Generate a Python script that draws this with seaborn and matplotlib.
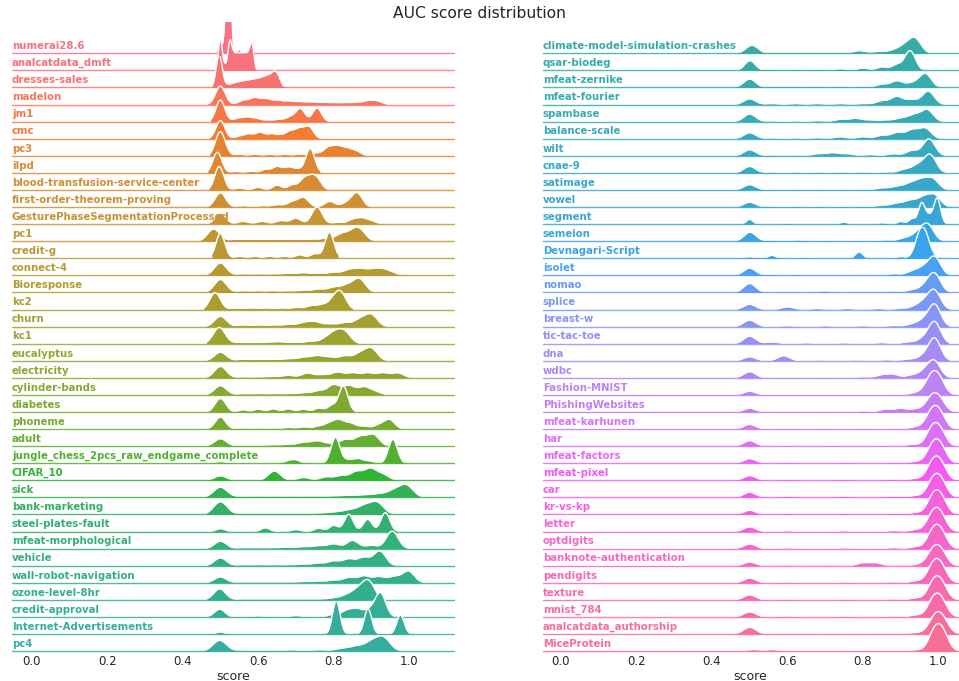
import numpy as np
import matplotlib
matplotlib.use("Agg")
import matplotlib.pyplot as plt
import seaborn as sns

# AUC score samples (estimated) with weights, one ridge per dataset
left_names = ["numerai28.6", "analcatdata_dmft", "dresses-sales", "madelon", "jm1", "cmc", "pc3", "ilpd",
              "blood-transfusion-service-center", "first-order-theorem-proving",
              "GesturePhaseSegmentationProcessed", "pc1", "credit-g", "connect-4", "Bioresponse", "kc2",
              "churn", "kc1", "eucalyptus", "electricity", "cylinder-bands", "diabetes", "phoneme", "adult",
              "jungle_chess_2pcs_raw_endgame_complete", "CIFAR_10", "sick", "bank-marketing",
              "steel-plates-fault", "mfeat-morphological", "vehicle", "wall-robot-navigation",
              "ozone-level-8hr", "credit-approval", "Internet-Advertisements", "pc4"]

left_scores = [
    [0.499, 0.512, 0.519, 0.526, 0.55, 0.583],
    [0.50, 0.512, 0.525, 0.535, 0.545, 0.555, 0.565, 0.575, 0.584],
    [0.497, 0.52, 0.535, 0.55, 0.565, 0.58, 0.595, 0.61, 0.625, 0.64, 0.652],
    [0.50, 0.56, 0.59, 0.62, 0.65, 0.68, 0.71, 0.74, 0.77, 0.80, 0.83, 0.86, 0.89, 0.915],
    [0.50, 0.545, 0.57, 0.595, 0.625, 0.655, 0.685, 0.712, 0.756],
    [0.50, 0.55, 0.575, 0.605, 0.635, 0.66, 0.685, 0.71, 0.735],
    [0.50, 0.55, 0.59, 0.63, 0.67, 0.71, 0.75, 0.785, 0.81, 0.835, 0.86],
    [0.492, 0.54, 0.58, 0.62, 0.65, 0.68, 0.705, 0.738],
    [0.497, 0.55, 0.60, 0.65, 0.69, 0.72, 0.74, 0.757],
    [0.50, 0.56, 0.61, 0.65, 0.69, 0.72, 0.79, 0.835, 0.862],
    [0.50, 0.56, 0.61, 0.66, 0.70, 0.756, 0.81, 0.85, 0.875, 0.90],
    [0.482, 0.54, 0.58, 0.62, 0.66, 0.70, 0.74, 0.78, 0.82, 0.85, 0.87],
    [0.50, 0.55, 0.59, 0.63, 0.67, 0.71, 0.75, 0.789],
    [0.50, 0.56, 0.60, 0.64, 0.68, 0.72, 0.76, 0.80, 0.84, 0.87, 0.90, 0.925, 0.95],
    [0.50, 0.56, 0.60, 0.64, 0.68, 0.72, 0.76, 0.80, 0.835, 0.868],
    [0.486, 0.54, 0.58, 0.62, 0.66, 0.70, 0.74, 0.77, 0.80, 0.82],
    [0.50, 0.56, 0.60, 0.64, 0.68, 0.72, 0.75, 0.79, 0.83, 0.87, 0.90],
    [0.497, 0.55, 0.59, 0.63, 0.66, 0.70, 0.74, 0.78, 0.805, 0.83],
    [0.50, 0.56, 0.60, 0.64, 0.68, 0.72, 0.756, 0.79, 0.83, 0.87, 0.90],
    [0.50, 0.56, 0.60, 0.64, 0.68, 0.73, 0.77, 0.81, 0.85, 0.89, 0.93, 0.97],
    [0.50, 0.56, 0.60, 0.64, 0.68, 0.72, 0.76, 0.80, 0.84, 0.88, 0.91],
    [0.493, 0.507, 0.56, 0.60, 0.64, 0.68, 0.72, 0.76, 0.795, 0.826],
    [0.50, 0.56, 0.60, 0.64, 0.68, 0.72, 0.76, 0.79, 0.815, 0.845, 0.88, 0.92, 0.948],
    [0.50, 0.56, 0.60, 0.64, 0.68, 0.72, 0.756, 0.79, 0.83, 0.87, 0.905],
    [0.50, 0.68, 0.70, 0.805, 0.84, 0.866, 0.895, 0.957],
    [0.50, 0.643, 0.72, 0.78, 0.82, 0.86, 0.897, 0.93],
    [0.50, 0.56, 0.60, 0.64, 0.68, 0.72, 0.76, 0.80, 0.84, 0.88, 0.92, 0.96, 0.993],
    [0.50, 0.56, 0.60, 0.64, 0.68, 0.72, 0.76, 0.80, 0.84, 0.88, 0.915],
    [0.50, 0.619, 0.70, 0.76, 0.80, 0.84, 0.89, 0.937],
    [0.50, 0.56, 0.60, 0.64, 0.68, 0.72, 0.76, 0.80, 0.85, 0.90, 0.955],
    [0.50, 0.56, 0.60, 0.64, 0.68, 0.72, 0.76, 0.80, 0.84, 0.88, 0.922],
    [0.50, 0.56, 0.60, 0.64, 0.68, 0.72, 0.76, 0.80, 0.84, 0.88, 0.92, 0.96, 0.998],
    [0.498, 0.56, 0.60, 0.64, 0.68, 0.72, 0.76, 0.80, 0.835, 0.865, 0.893],
    [0.498, 0.60, 0.70, 0.80, 0.835, 0.862, 0.895, 0.924],
    [0.50, 0.807, 0.891, 0.977],
    [0.498, 0.56, 0.62, 0.69, 0.76, 0.82, 0.86, 0.90, 0.932],
]

left_weights = [
    [0.08, 0.1, 0.37, 0.365, 0.02, 0.065],
    [0.2, 0.03, 0.18, 0.09, 0.09, 0.09, 0.09, 0.09, 0.16],
    [0.33, 0.023, 0.034, 0.045, 0.053, 0.06, 0.068, 0.079, 0.094, 0.113, 0.1],
    [0.55, 0.12, 0.195, 0.165, 0.12, 0.096, 0.08, 0.07, 0.06, 0.054, 0.054, 0.06, 0.1, 0.1],
    [0.57, 0.08, 0.11, 0.08, 0.04, 0.06, 0.12, 0.34, 0.36],
    [0.47, 0.06, 0.12, 0.16, 0.12, 0.08, 0.18, 0.24, 0.3],
    [0.83, 0.05, 0.05, 0.05, 0.05, 0.06, 0.09, 0.27, 0.29, 0.22, 0.15],
    [0.6, 0.04, 0.05, 0.1, 0.18, 0.16, 0.1, 0.71],
    [0.72, 0.06, 0.08, 0.15, 0.15, 0.3, 0.3, 0.28],
    [0.43, 0.04, 0.04, 0.07, 0.15, 0.28, 0.17, 0.12, 0.42],
    [0.33, 0.08, 0.08, 0.1, 0.17, 0.5, 0.05, 0.12, 0.15, 0.08],
    [0.51, 0.08, 0.08, 0.08, 0.08, 0.08, 0.08, 0.12, 0.28, 0.3, 0.4],
    [0.65, 0.05, 0.05, 0.05, 0.05, 0.09, 0.12, 0.68],
    [0.49, 0.06, 0.06, 0.06, 0.08, 0.1, 0.08, 0.12, 0.2, 0.22, 0.17, 0.2, 0.12],
    [0.48, 0.06, 0.06, 0.06, 0.06, 0.08, 0.12, 0.18, 0.25, 0.5],
    [0.56, 0.05, 0.05, 0.05, 0.05, 0.07, 0.12, 0.14, 0.3, 0.5],
    [0.4, 0.06, 0.06, 0.06, 0.08, 0.14, 0.18, 0.1, 0.15, 0.27, 0.45],
    [0.69, 0.05, 0.05, 0.06, 0.07, 0.05, 0.1, 0.2, 0.4, 0.45],
    [0.36, 0.06, 0.06, 0.06, 0.08, 0.14, 0.2, 0.14, 0.2, 0.3, 0.5],
    [0.47, 0.04, 0.04, 0.06, 0.1, 0.19, 0.12, 0.23, 0.2, 0.2, 0.2, 0.2],
    [0.37, 0.05, 0.05, 0.05, 0.05, 0.08, 0.16, 0.4, 0.36, 0.3, 0.12],
    [0.25, 0.25, 0.07, 0.09, 0.1, 0.1, 0.09, 0.12, 0.2, 0.81],
    [0.44, 0.04, 0.04, 0.04, 0.06, 0.08, 0.1, 0.2, 0.3, 0.2, 0.1, 0.15, 0.34],
    [0.33, 0.04, 0.04, 0.06, 0.08, 0.16, 0.22, 0.1, 0.28, 0.4, 0.5],
    [0.045, 0.06, 0.08, 0.7, 0.09, 0.12, 0.06, 0.65],
    [0.16, 0.33, 0.1, 0.12, 0.16, 0.3, 0.4, 0.2],
    [0.44, 0.05, 0.05, 0.05, 0.05, 0.05, 0.05, 0.06, 0.08, 0.1, 0.14, 0.28, 0.5],
    [0.6, 0.04, 0.04, 0.04, 0.04, 0.04, 0.06, 0.1, 0.2, 0.38, 0.55],
    [0.07, 0.09, 0.05, 0.08, 0.15, 0.42, 0.3, 0.46],
    [0.32, 0.04, 0.04, 0.04, 0.06, 0.08, 0.12, 0.2, 0.35, 0.14, 0.75],
    [0.31, 0.04, 0.04, 0.04, 0.04, 0.06, 0.1, 0.18, 0.26, 0.32, 0.58],
    [0.28, 0.04, 0.04, 0.04, 0.04, 0.06, 0.08, 0.12, 0.24, 0.32, 0.28, 0.28, 0.55],
    [0.49, 0.04, 0.04, 0.04, 0.04, 0.04, 0.04, 0.08, 0.2, 0.42, 0.8],
    [0.23, 0.03, 0.04, 0.08, 0.18, 0.22, 0.2, 0.7],
    [0.05, 0.8, 0.61, 0.46],
    [0.5, 0.05, 0.05, 0.06, 0.06, 0.12, 0.22, 0.4, 0.6],
]

left_bw = [0.004, 0.005, 0.008, 0.013, 0.012, 0.012, 0.013, 0.012, 0.012, 0.014, 0.014, 0.016,
           0.012, 0.016, 0.016, 0.014, 0.016, 0.016, 0.016, 0.016, 0.016, 0.012, 0.014, 0.016,
           0.012, 0.016, 0.018, 0.018, 0.012, 0.016, 0.016, 0.016, 0.016, 0.014, 0.01, 0.018]

right_names = ["climate-model-simulation-crashes", "qsar-biodeg", "mfeat-zernike", "mfeat-fourier",
               "spambase", "balance-scale", "wilt", "cnae-9", "satimage", "vowel", "segment", "semeion",
               "Devnagari-Script", "isolet", "nomao", "splice", "breast-w", "tic-tac-toe", "dna", "wdbc",
               "Fashion-MNIST", "PhishingWebsites", "mfeat-karhunen", "har", "mfeat-factors",
               "mfeat-pixel", "car", "kr-vs-kp", "letter", "optdigits", "banknote-authentication",
               "pendigits", "texture", "mnist_784", "analcatdata_authorship", "MiceProtein"]

right_scores = [
    [0.506, 0.57, 0.62, 0.67, 0.72, 0.79, 0.84, 0.88, 0.91, 0.938],
    [0.501, 0.56, 0.62, 0.68, 0.74, 0.80, 0.85, 0.89, 0.925],
    [0.50, 0.56, 0.62, 0.68, 0.74, 0.80, 0.85, 0.89, 0.93, 0.965],
    [0.50, 0.56, 0.62, 0.68, 0.74, 0.80, 0.85, 0.89, 0.93, 0.973],
    [0.50, 0.56, 0.62, 0.68, 0.74, 0.78, 0.82, 0.86, 0.90, 0.935, 0.97],
    [0.50, 0.56, 0.62, 0.68, 0.74, 0.80, 0.85, 0.89, 0.93, 0.965],
    [0.50, 0.56, 0.62, 0.68, 0.72, 0.76, 0.82, 0.88, 0.93, 0.975],
    [0.50, 0.56, 0.62, 0.68, 0.74, 0.80, 0.86, 0.91, 0.945, 0.978],
    [0.50, 0.56, 0.62, 0.68, 0.74, 0.80, 0.85, 0.89, 0.925, 0.955, 0.985],
    [0.50, 0.56, 0.62, 0.68, 0.74, 0.80, 0.85, 0.89, 0.925, 0.96, 0.99],
    [0.50, 0.60, 0.75, 0.85, 0.90, 0.93, 0.956, 0.976, 0.997],
    [0.501, 0.56, 0.63, 0.70, 0.78, 0.86, 0.91, 0.945, 0.972],
    [0.50, 0.559, 0.65, 0.79, 0.90, 0.935, 0.95, 0.965, 0.98],
    [0.50, 0.56, 0.62, 0.70, 0.80, 0.88, 0.93, 0.96, 0.99],
    [0.50, 0.60, 0.70, 0.80, 0.88, 0.93, 0.965, 0.99],
    [0.50, 0.60, 0.68, 0.76, 0.84, 0.90, 0.94, 0.965, 0.99],
    [0.50, 0.60, 0.70, 0.80, 0.88, 0.93, 0.96, 0.99],
    [0.50, 0.56, 0.65, 0.75, 0.85, 0.92, 0.96, 0.99],
    [0.50, 0.59, 0.68, 0.78, 0.86, 0.92, 0.96, 0.99],
    [0.50, 0.60, 0.70, 0.80, 0.85, 0.88, 0.93, 0.965, 0.99],
    [0.50, 0.60, 0.70, 0.80, 0.88, 0.94, 0.979, 1.001],
    [0.50, 0.60, 0.70, 0.80, 0.86, 0.90, 0.94, 0.98, 1.002],
    [0.50, 0.60, 0.70, 0.80, 0.88, 0.94, 0.981, 1.003],
    [0.50, 0.60, 0.72, 0.85, 0.93, 0.982, 1.004],
    [0.50, 0.60, 0.75, 0.88, 0.94, 0.984, 1.006],
    [0.50, 0.60, 0.75, 0.88, 0.94, 0.984, 1.006],
    [0.50, 0.60, 0.75, 0.88, 0.94, 0.985, 1.007],
    [0.50, 0.60, 0.75, 0.88, 0.94, 0.985, 1.007],
    [0.50, 0.60, 0.75, 0.88, 0.94, 0.984, 1.006],
    [0.50, 0.60, 0.75, 0.88, 0.94, 0.985, 1.007],
    [0.50, 0.60, 0.70, 0.80, 0.835, 0.90, 0.95, 0.985, 1.007],
    [0.50, 0.60, 0.75, 0.88, 0.94, 0.985, 1.007],
    [0.50, 0.60, 0.75, 0.88, 0.94, 0.986, 1.008],
    [0.50, 0.60, 0.75, 0.88, 0.94, 0.986, 1.008],
    [0.50, 0.60, 0.75, 0.88, 0.94, 0.989, 1.011],
    [0.51, 0.56, 0.70, 0.85, 0.94, 0.989, 1.011],
]

right_weights = [
    [0.225, 0.02, 0.02, 0.02, 0.03, 0.075, 0.05, 0.076, 0.19, 0.4],
    [0.24, 0.025, 0.025, 0.025, 0.04, 0.06, 0.085, 0.14, 0.48],
    [0.21, 0.02, 0.02, 0.02, 0.02, 0.02, 0.076, 0.16, 0.1, 0.34],
    [0.15, 0.025, 0.025, 0.025, 0.025, 0.025, 0.095, 0.21, 0.12, 0.35],
    [0.225, 0.02, 0.02, 0.03, 0.066, 0.095, 0.047, 0.047, 0.095, 0.19, 0.35],
    [0.175, 0.02, 0.02, 0.03, 0.057, 0.057, 0.095, 0.17, 0.25, 0.3],
    [0.15, 0.02, 0.02, 0.05, 0.076, 0.05, 0.03, 0.05, 0.13, 0.42],
    [0.15, 0.02, 0.02, 0.02, 0.02, 0.02, 0.02, 0.076, 0.17, 0.42],
    [0.15, 0.02, 0.02, 0.02, 0.02, 0.02, 0.057, 0.095, 0.17, 0.26, 0.3],
    [0.15, 0.02, 0.02, 0.02, 0.02, 0.02, 0.057, 0.11, 0.19, 0.28, 0.35],
    [0.07, 0.01, 0.03, 0.02, 0.04, 0.08, 0.31, 0.11, 0.38],
    [0.225, 0.02, 0.03, 0.015, 0.015, 0.03, 0.076, 0.19, 0.4],
    [0.027, 0.052, 0.01, 0.11, 0.03, 0.08, 0.35, 0.35, 0.1],
    [0.18, 0.02, 0.015, 0.01, 0.015, 0.04, 0.095, 0.17, 0.45],
    [0.225, 0.02, 0.04, 0.025, 0.03, 0.06, 0.15, 0.45],
    [0.13, 0.068, 0.025, 0.025, 0.025, 0.03, 0.076, 0.17, 0.45],
    [0.15, 0.02, 0.02, 0.02, 0.025, 0.05, 0.13, 0.5],
    [0.175, 0.04, 0.02, 0.02, 0.025, 0.04, 0.11, 0.5],
    [0.1, 0.125, 0.02, 0.02, 0.025, 0.04, 0.11, 0.55],
    [0.175, 0.02, 0.02, 0.03, 0.076, 0.095, 0.076, 0.19, 0.45],
    [0.1, 0.02, 0.02, 0.02, 0.02, 0.06, 0.41, 0.41],
    [0.1, 0.02, 0.02, 0.03, 0.076, 0.095, 0.076, 0.33, 0.33],
    [0.125, 0.02, 0.02, 0.02, 0.02, 0.06, 0.4, 0.4],
    [0.15, 0.025, 0.02, 0.02, 0.05, 0.4, 0.4],
    [0.125, 0.02, 0.02, 0.025, 0.05, 0.41, 0.41],
    [0.125, 0.02, 0.02, 0.025, 0.05, 0.41, 0.41],
    [0.14, 0.02, 0.02, 0.025, 0.05, 0.41, 0.41],
    [0.11, 0.02, 0.02, 0.025, 0.05, 0.41, 0.41],
    [0.125, 0.02, 0.02, 0.025, 0.05, 0.4, 0.4],
    [0.125, 0.02, 0.02, 0.025, 0.05, 0.41, 0.41],
    [0.1, 0.02, 0.02, 0.075, 0.075, 0.02, 0.04, 0.36, 0.36],
    [0.125, 0.02, 0.02, 0.025, 0.05, 0.41, 0.41],
    [0.135, 0.02, 0.02, 0.025, 0.05, 0.41, 0.41],
    [0.135, 0.025, 0.02, 0.025, 0.05, 0.4, 0.4],
    [0.19, 0.015, 0.015, 0.02, 0.04, 0.39, 0.39],
    [0.04, 0.04, 0.01, 0.01, 0.03, 0.46, 0.46],
]

right_bw = [0.016, 0.014, 0.016, 0.016, 0.016, 0.016, 0.016, 0.016, 0.016, 0.016, 0.009, 0.016,
            0.01, 0.016, 0.016, 0.016, 0.016, 0.016, 0.016, 0.016, 0.016, 0.016, 0.016, 0.016,
            0.016, 0.016, 0.016, 0.016, 0.016, 0.016, 0.016, 0.016, 0.016, 0.016, 0.017, 0.016]

xticks = [0.0, 0.2, 0.4, 0.6, 0.8, 1.0]

sns.set_theme(style="white", rc={"axes.facecolor": (0, 0, 0, 0)})
plt.rcParams['font.family'] = ['DejaVu Sans']

pal = sns.color_palette("husl", len(left_names) + len(right_names))

W, H = 959, 681
fig = plt.figure(figsize=(W / 100, H / 100), dpi=100)

row_step = 17.08      # px between ridges
top_base = 53.3       # px, baseline of first ridge
ax_h = 31.6           # px, height of each ridge axes (peaks are clipped here)

columns = [
    # names, scores, weights, bandwidths, x0 px, x1 px, xlim, colour offset, px per density unit
    (left_names, left_scores, left_weights, left_bw, 12, 454, (-0.052, 1.119), 0, 2.0),
    (right_names, right_scores, right_weights, right_bw, 542.7, 958, (-0.048, 1.052), len(left_names), 1.6),
]

for names, scores, weights, bws, x0, x1, xlim, offset, scale in columns:
    n = len(names)
    for i in range(n):
        color = pal[offset + i]
        base = top_base + row_step * i
        ax = fig.add_axes([x0 / W, 1 - base / H, (x1 - x0) / W, ax_h / H])
        pts = np.array(scores[i])
        wts = np.array(weights[i])
        sd = np.sqrt(np.cov(pts, aweights=wts))
        bwm = bws[i] / sd
        sns.kdeplot(x=pts, weights=wts, bw_method=bwm, ax=ax, fill=True, color=color, alpha=1,
                    linewidth=0, gridsize=500)
        sns.kdeplot(x=pts, weights=wts, bw_method=bwm, ax=ax, color="w", lw=1, gridsize=500)
        ax.axhline(0, color=color, lw=1.0, alpha=0.85, clip_on=False)
        ax.set_xlim(*xlim)
        ax.set_ylim(0, ax_h / scale)
        ax.text(0, 7.2 / ax_h, names[i], fontweight="bold", color=color, fontsize=7.3,
                ha="left", va="center", transform=ax.transAxes)
        ax.set_yticks([])
        ax.set_ylabel("")
        for sp in ax.spines.values():
            sp.set_visible(False)
        if i == n - 1:
            ax.set_xticks(xticks)
            ax.set_xticklabels([f"{t:.1f}" for t in xticks])
            ax.tick_params(axis="x", length=0, pad=3, labelsize=8.5)
            ax.set_xlabel("score", fontsize=9, labelpad=1)
        else:
            ax.set_xticks([])
            ax.set_xlabel("")

fig.suptitle("AUC score distribution", fontsize=11.2, y=1 - 14 / H, va="center")
fig.savefig("out.png", dpi=100)
